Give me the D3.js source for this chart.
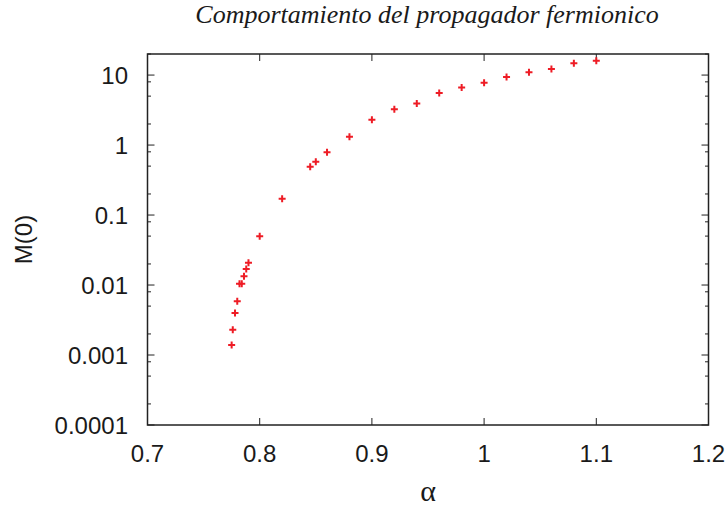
<!DOCTYPE html>
<html>
<head>
<meta charset="utf-8">
<script src="https://cdn.jsdelivr.net/npm/d3@7"></script>
<style>
  html, body { margin: 0; padding: 0; background: #fff; }
  svg { display: block; }
</style>
</head>
<body>
<svg id="chart" width="727" height="506"></svg>
<script>
// Fermion propagator mass function M(0) as a function of the coupling alpha
const alphaValues = [0.775, 0.776, 0.778, 0.780, 0.782, 0.784, 0.786, 0.788, 0.790, 0.800,
                     0.820, 0.845, 0.850, 0.860, 0.880, 0.900, 0.920, 0.940, 0.960, 0.980,
                     1.000, 1.020, 1.040, 1.060, 1.080, 1.100];
const massValues  = [0.00139, 0.0023, 0.00398, 0.00585, 0.0104, 0.0104, 0.0134, 0.0169, 0.0208, 0.0496,
                     0.171, 0.49, 0.578, 0.787, 1.31, 2.30, 3.24, 3.94, 5.53, 6.67,
                     7.76, 9.36, 11.0, 12.2, 14.7, 16.0];
const xTickValues = [0.7, 0.8, 0.9, 1.0, 1.1, 1.2];
const yTickValues = [0.0001, 0.001, 0.01, 0.1, 1, 10];
const yTickLabels = ["0.0001", "0.001", "0.01", "0.1", "1", "10"];
const titleText = "Comportamiento del propagador fermionico";

const svg = d3.select("#chart");
const plotLeft = 147.5, plotRight = 708.5, plotTop = 54, plotBottom = 425;

const x = d3.scaleLinear().domain([0.7, 1.2]).range([plotLeft, plotRight]);
const y = d3.scaleLog().domain([0.0001, 20]).range([plotBottom, plotTop]);

// minor ticks at 2, 5, 8 of every decade
const minor = [];
yTickValues.forEach(d => [2, 5, 8].forEach(m => {
  const v = d * m;
  if (v <= 20) minor.push(v);
}));

const axisColor = "#222";
const tickFont = "'Liberation Sans', Arial, sans-serif";
const serifFont = "'Liberation Serif', 'Times New Roman', serif";

// frame
svg.append("rect")
  .attr("x", plotLeft).attr("y", plotTop)
  .attr("width", plotRight - plotLeft).attr("height", plotBottom - plotTop)
  .attr("fill", "none").attr("stroke", axisColor).attr("stroke-width", 1.5);

const ticks = svg.append("g").attr("stroke", axisColor).attr("stroke-width", 1);

// x ticks bottom and top
ticks.append("g").selectAll("line").data(xTickValues).join("line")
  .attr("x1", d => x(d)).attr("x2", d => x(d))
  .attr("y1", plotBottom).attr("y2", plotBottom - 7);
ticks.append("g").selectAll("line").data(xTickValues).join("line")
  .attr("x1", d => x(d)).attr("x2", d => x(d))
  .attr("y1", plotTop).attr("y2", plotTop + 7);

// y major ticks left and right
ticks.append("g").selectAll("line").data(yTickValues).join("line")
  .attr("x1", plotLeft).attr("x2", plotLeft + 7)
  .attr("y1", d => y(d)).attr("y2", d => y(d));
ticks.append("g").selectAll("line").data(yTickValues).join("line")
  .attr("x1", plotRight).attr("x2", plotRight - 7)
  .attr("y1", d => y(d)).attr("y2", d => y(d));

// y minor ticks
ticks.append("g").selectAll("line").data(minor).join("line")
  .attr("x1", plotLeft).attr("x2", plotLeft + 3.5)
  .attr("y1", d => y(d)).attr("y2", d => y(d));
ticks.append("g").selectAll("line").data(minor).join("line")
  .attr("x1", plotRight).attr("x2", plotRight - 3.5)
  .attr("y1", d => y(d)).attr("y2", d => y(d));

// tick labels
svg.append("g").selectAll("text").data(xTickValues).join("text")
  .attr("x", d => x(d)).attr("y", 462)
  .attr("text-anchor", "middle")
  .attr("font-family", tickFont).attr("font-size", 24).attr("fill", "#1a1a1a")
  .text(d => d3.format("~g")(d));

svg.append("g").selectAll("text").data(yTickValues).join("text")
  .attr("x", 128).attr("y", d => y(d) + 9)
  .attr("text-anchor", "end")
  .attr("font-family", tickFont).attr("font-size", 24).attr("fill", "#1a1a1a")
  .text((d, i) => yTickLabels[i]);

// axis titles
svg.append("text")
  .attr("transform", `translate(32, ${(plotTop + plotBottom) / 2}) rotate(-90)`)
  .attr("text-anchor", "middle")
  .attr("font-family", tickFont).attr("font-size", 24).attr("fill", "#1a1a1a")
  .text("M(0)");

svg.append("text")
  .attr("x", (plotLeft + plotRight) / 2).attr("y", 501)
  .attr("text-anchor", "middle")
  .attr("font-family", serifFont).attr("font-size", 30).attr("fill", "#1a1a1a")
  .text("α");

svg.append("text")
  .attr("x", 427).attr("y", 22.5)
  .attr("text-anchor", "middle")
  .attr("font-family", serifFont)
  .attr("font-style", "italic").attr("font-size", 26).attr("fill", "#1a1a1a")
  .text(titleText);

// data points as plus markers
const pts = alphaValues.map((a, i) => [a, massValues[i]]);
svg.append("g").attr("stroke", "#ee1c25").attr("stroke-width", 2)
  .selectAll("path").data(pts).join("path")
  .attr("d", d => {
    const cx = x(d[0]), cy = y(d[1]), r = 3.5;
    return `M${cx - r},${cy}H${cx + r}M${cx},${cy - r}V${cy + r}`;
  });
</script>
</body>
</html>
